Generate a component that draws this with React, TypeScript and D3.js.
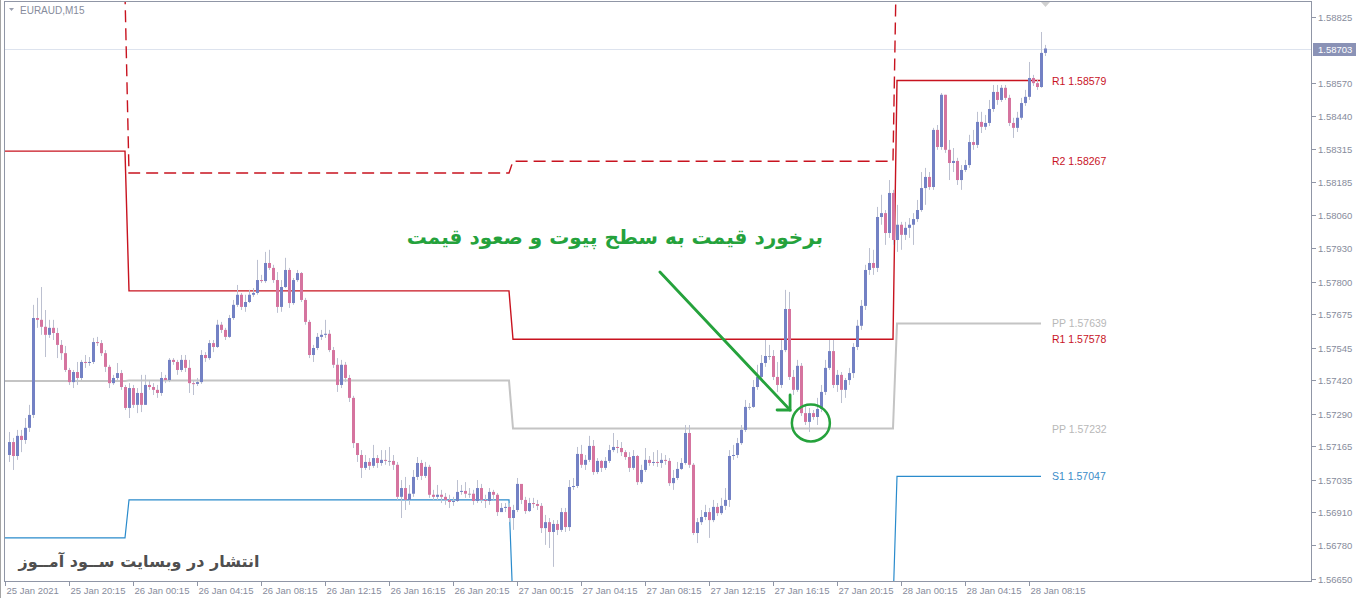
import * as d3 from "d3";

// EURAUD M15, 25 Jan 16:30 .. 28 Jan 09:15 (UTC), one bar every 15 minutes
const firstBar = Date.UTC(2021, 0, 25, 16, 30);
const axisStart = Date.UTC(2021, 0, 25, 16, 15);
const axisEnd = Date.UTC(2021, 0, 28, 9, 15);
const M15 = 15 * 60 * 1000;

const firstOpen = 1.5713;

const closes = [
  1.57180, 1.57126, 1.57204, 1.57188, 1.57235, 1.57285, 1.57660, 1.57653, 1.57626, 1.57595,
  1.57622, 1.57602, 1.57556, 1.57524, 1.57459, 1.57412, 1.57451, 1.57428, 1.57490, 1.57486,
  1.57490, 1.57567, 1.57563, 1.57524, 1.57471, 1.57408, 1.57428, 1.57447, 1.57393, 1.57312,
  1.57389, 1.57324, 1.57370, 1.57324, 1.57401, 1.57393, 1.57382, 1.57370, 1.57428, 1.57420,
  1.57498, 1.57490, 1.57459, 1.57498, 1.57467, 1.57408, 1.57405, 1.57412, 1.57517, 1.57505,
  1.57563, 1.57548, 1.57634, 1.57614, 1.57587, 1.57660, 1.57711, 1.57750, 1.57703, 1.57722,
  1.57750, 1.57757, 1.57807, 1.57803, 1.57873, 1.57854, 1.57807, 1.57703, 1.57780, 1.57846,
  1.57718, 1.57807, 1.57834, 1.57730, 1.57645, 1.57517, 1.57544, 1.57587, 1.57595, 1.57599,
  1.57536, 1.57479, 1.57401, 1.57479, 1.57428, 1.57351, 1.57176, 1.57130, 1.57080, 1.57103,
  1.57088, 1.57118, 1.57099, 1.57111, 1.57107, 1.57107, 1.57092, 1.56968, 1.57002, 1.56956,
  1.56980, 1.57045, 1.57099, 1.57049, 1.57084, 1.56976, 1.56968, 1.56976, 1.56968, 1.56956,
  1.56948, 1.56952, 1.56987, 1.56991, 1.56980, 1.56980, 1.56952, 1.57002, 1.56956, 1.56952,
  1.56987, 1.56976, 1.56909, 1.56925, 1.56929, 1.56886, 1.56917, 1.57018, 1.56956, 1.56913,
  1.56944, 1.56940, 1.56933, 1.56847, 1.56870, 1.56832, 1.56863, 1.56840, 1.56909, 1.56851,
  1.57006, 1.57010, 1.57134, 1.57092, 1.57111, 1.57165, 1.57064, 1.57107, 1.57080, 1.57107,
  1.57149, 1.57161, 1.57157, 1.57141, 1.57122, 1.57080, 1.57126, 1.57025, 1.57072, 1.57111,
  1.57099, 1.57103, 1.57099, 1.57111, 1.57107, 1.57021, 1.57041, 1.57076, 1.57099, 1.57215,
  1.57092, 1.56828, 1.56870, 1.56890, 1.56909, 1.56878, 1.56929, 1.56905, 1.56933, 1.56956,
  1.57126, 1.57130, 1.57176, 1.57227, 1.57316, 1.57316, 1.57393, 1.57432, 1.57486, 1.57513,
  1.57513, 1.57432, 1.57401, 1.57536, 1.57695, 1.57432, 1.57382, 1.57475, 1.57292, 1.57258,
  1.57292, 1.57277, 1.57308, 1.57374, 1.57467, 1.57532, 1.57401, 1.57440, 1.57382, 1.57420,
  1.57447, 1.57548, 1.57630, 1.57707, 1.57846, 1.57873, 1.57854, 1.58051, 1.58066, 1.57989,
  1.58144, 1.57962, 1.58021, 1.57982, 1.58009, 1.58021, 1.58043, 1.58078, 1.58163, 1.58206,
  1.58167, 1.58388, 1.58322, 1.58524, 1.58311, 1.58260, 1.58268, 1.58194, 1.58233, 1.58252,
  1.58341, 1.58330, 1.58419, 1.58400, 1.58415, 1.58469, 1.58535, 1.58504, 1.58551, 1.58512,
  1.58415, 1.58396, 1.58435, 1.58492, 1.58516, 1.58589, 1.58569, 1.58554, 1.58686, 1.58703,
];

const highs = [
  1.57219, 1.57196, 1.57227, 1.57227, 1.57273, 1.57324, 1.57711, 1.57738, 1.57780, 1.57691,
  1.57653, 1.57653, 1.57622, 1.57575, 1.57552, 1.57467, 1.57459, 1.57490, 1.57498, 1.57517,
  1.57509, 1.57583, 1.57587, 1.57575, 1.57536, 1.57479, 1.57440, 1.57486, 1.57459, 1.57401,
  1.57408, 1.57401, 1.57389, 1.57440, 1.57440, 1.57420, 1.57408, 1.57401, 1.57451, 1.57440,
  1.57505, 1.57505, 1.57498, 1.57517, 1.57517, 1.57498, 1.57420, 1.57428, 1.57536, 1.57528,
  1.57575, 1.57575, 1.57653, 1.57645, 1.57622, 1.57672, 1.57730, 1.57788, 1.57757, 1.57750,
  1.57769, 1.57776, 1.57885, 1.57827, 1.57916, 1.57924, 1.57866, 1.57838, 1.57807, 1.57893,
  1.57854, 1.57815, 1.57846, 1.57838, 1.57738, 1.57653, 1.57556, 1.57602, 1.57614, 1.57653,
  1.57614, 1.57548, 1.57505, 1.57498, 1.57490, 1.57440, 1.57359, 1.57176, 1.57149, 1.57130,
  1.57118, 1.57169, 1.57130, 1.57149, 1.57149, 1.57161, 1.57130, 1.57103, 1.57033, 1.57045,
  1.57014, 1.57072, 1.57122, 1.57111, 1.57103, 1.57092, 1.56995, 1.57014, 1.56995, 1.56983,
  1.56976, 1.56968, 1.57033, 1.57014, 1.57025, 1.57002, 1.56995, 1.57033, 1.57018, 1.56976,
  1.57002, 1.56995, 1.56983, 1.56944, 1.56944, 1.56944, 1.56937, 1.57041, 1.57014, 1.56968,
  1.56964, 1.56964, 1.56956, 1.56944, 1.56898, 1.56886, 1.56878, 1.56878, 1.56925, 1.56925,
  1.57033, 1.57041, 1.57161, 1.57169, 1.57130, 1.57204, 1.57188, 1.57118, 1.57111, 1.57122,
  1.57169, 1.57215, 1.57188, 1.57180, 1.57149, 1.57141, 1.57149, 1.57130, 1.57092, 1.57157,
  1.57126, 1.57141, 1.57149, 1.57137, 1.57130, 1.57118, 1.57072, 1.57103, 1.57118, 1.57246,
  1.57246, 1.57099, 1.56886, 1.56917, 1.56937, 1.56925, 1.56956, 1.56944, 1.56964, 1.57002,
  1.57149, 1.57169, 1.57196, 1.57246, 1.57343, 1.57331, 1.57420, 1.57479, 1.57517, 1.57575,
  1.57556, 1.57536, 1.57490, 1.57575, 1.57769, 1.57761, 1.57459, 1.57498, 1.57486, 1.57324,
  1.57312, 1.57304, 1.57351, 1.57401, 1.57498, 1.57575, 1.57575, 1.57459, 1.57451, 1.57428,
  1.57467, 1.57563, 1.57653, 1.57730, 1.57866, 1.57931, 1.57924, 1.58090, 1.58137, 1.58078,
  1.58194, 1.58156, 1.58098, 1.58032, 1.58032, 1.58047, 1.58066, 1.58117, 1.58225, 1.58241,
  1.58225, 1.58396, 1.58407, 1.58531, 1.58524, 1.58349, 1.58318, 1.58280, 1.58252, 1.58272,
  1.58369, 1.58388, 1.58458, 1.58458, 1.58446, 1.58504, 1.58562, 1.58562, 1.58562, 1.58562,
  1.58524, 1.58435, 1.58458, 1.58512, 1.58543, 1.58651, 1.58601, 1.58581, 1.58767, 1.58717,
];

const lows = [
  1.57103, 1.57072, 1.57111, 1.57141, 1.57173, 1.57219, 1.57273, 1.57622, 1.57595, 1.57509,
  1.57583, 1.57575, 1.57505, 1.57498, 1.57451, 1.57401, 1.57389, 1.57401, 1.57420, 1.57467,
  1.57475, 1.57482, 1.57552, 1.57513, 1.57451, 1.57389, 1.57401, 1.57420, 1.57382, 1.57304,
  1.57273, 1.57312, 1.57292, 1.57296, 1.57324, 1.57382, 1.57362, 1.57351, 1.57359, 1.57408,
  1.57412, 1.57479, 1.57440, 1.57451, 1.57451, 1.57370, 1.57362, 1.57397, 1.57405, 1.57490,
  1.57498, 1.57528, 1.57544, 1.57602, 1.57575, 1.57583, 1.57653, 1.57703, 1.57691, 1.57684,
  1.57718, 1.57742, 1.57750, 1.57796, 1.57796, 1.57846, 1.57796, 1.57680, 1.57684, 1.57776,
  1.57699, 1.57711, 1.57800, 1.57722, 1.57634, 1.57505, 1.57490, 1.57536, 1.57575, 1.57583,
  1.57528, 1.57467, 1.57374, 1.57389, 1.57412, 1.57335, 1.57157, 1.57103, 1.57041, 1.57072,
  1.57072, 1.57080, 1.57080, 1.57088, 1.57092, 1.57088, 1.57072, 1.56956, 1.56886, 1.56917,
  1.56937, 1.56968, 1.57033, 1.57033, 1.57041, 1.56964, 1.56956, 1.56956, 1.56944, 1.56937,
  1.56925, 1.56933, 1.56948, 1.56976, 1.56964, 1.56964, 1.56937, 1.56944, 1.56944, 1.56925,
  1.56937, 1.56956, 1.56894, 1.56909, 1.56909, 1.56870, 1.56840, 1.56909, 1.56940, 1.56902,
  1.56909, 1.56925, 1.56917, 1.56828, 1.56782, 1.56770, 1.56697, 1.56820, 1.56832, 1.56832,
  1.56836, 1.56995, 1.57002, 1.57080, 1.57072, 1.57103, 1.57053, 1.57056, 1.57064, 1.57072,
  1.57099, 1.57141, 1.57137, 1.57126, 1.57111, 1.57064, 1.57072, 1.57014, 1.57018, 1.57064,
  1.57088, 1.57088, 1.57084, 1.57080, 1.57092, 1.57010, 1.56995, 1.57033, 1.57072, 1.57092,
  1.57080, 1.56820, 1.56789, 1.56859, 1.56878, 1.56809, 1.56870, 1.56894, 1.56898, 1.56917,
  1.56929, 1.57111, 1.57118, 1.57169, 1.57219, 1.57304, 1.57312, 1.57382, 1.57420, 1.57471,
  1.57498, 1.57420, 1.57374, 1.57389, 1.57528, 1.57420, 1.57362, 1.57374, 1.57281, 1.57246,
  1.57219, 1.57266, 1.57246, 1.57296, 1.57362, 1.57459, 1.57389, 1.57374, 1.57331, 1.57351,
  1.57401, 1.57428, 1.57536, 1.57614, 1.57691, 1.57827, 1.57827, 1.57838, 1.58021, 1.57943,
  1.57970, 1.57943, 1.57916, 1.57924, 1.57962, 1.57970, 1.57943, 1.58032, 1.58071, 1.58098,
  1.58156, 1.58156, 1.58311, 1.58311, 1.58299, 1.58194, 1.58225, 1.58175, 1.58156, 1.58225,
  1.58241, 1.58311, 1.58318, 1.58376, 1.58388, 1.58403, 1.58458, 1.58485, 1.58496, 1.58504,
  1.58403, 1.58357, 1.58380, 1.58427, 1.58481, 1.58504, 1.58558, 1.58543, 1.58551, 1.58674,
];

const priceTicks = [
  1.58825, 1.5857, 1.5844, 1.58315, 1.58185, 1.5806, 1.5793, 1.578, 1.57675,
  1.57545, 1.5742, 1.5729, 1.57165, 1.57035, 1.5691, 1.5678, 1.5665,
];
const currentPrice = 1.58703;

const timeTickValues = [
  "2021-01-25T16:15Z", "2021-01-25T20:15Z", "2021-01-26T00:15Z", "2021-01-26T04:15Z",
  "2021-01-26T08:15Z", "2021-01-26T12:15Z", "2021-01-26T16:15Z", "2021-01-26T20:15Z",
  "2021-01-27T00:15Z", "2021-01-27T04:15Z", "2021-01-27T08:15Z", "2021-01-27T12:15Z",
  "2021-01-27T16:15Z", "2021-01-27T20:15Z", "2021-01-28T00:15Z", "2021-01-28T04:15Z",
  "2021-01-28T08:15Z",
];
const timeTickLabels = [
  "25 Jan 2021", "25 Jan 20:15", "26 Jan 00:15", "26 Jan 04:15", "26 Jan 08:15",
  "26 Jan 12:15", "26 Jan 16:15", "26 Jan 20:15", "27 Jan 00:15", "27 Jan 04:15",
  "27 Jan 08:15", "27 Jan 12:15", "27 Jan 16:15", "27 Jan 20:15", "28 Jan 00:15",
  "28 Jan 04:15", "28 Jan 08:15",
];

// daily pivot levels
const pivotDays = ["2021-01-25", "2021-01-26", "2021-01-27", "2021-01-28"];
const ppLevels = [1.57416, 1.57418, 1.57232, 1.57639];
const r1Levels = [1.58306, 1.57765, 1.57578, 1.58579];
const r2Levels = [1.58913, 1.58221, 1.58267, 1.59171];
const s1Levels = [1.56809, 1.56956, 1.56543, 1.57047];

const levelNames = ["R1", "R2", "PP", "R1", "PP", "S1"];
const levelValues = [1.58579, 1.58267, 1.57639, 1.57578, 1.57232, 1.57047];

const RED = "#c8131f";
const GRAY = "#c4c4c4";
const BLUE = "#2a8bcc";
const BULL = "#7381c4";
const BEAR = "#d5749f";
const WICK = "#bcc0d0";
const AXIS_TEXT = "#878c9c";
const GREEN = "#25a23c";

const levelColors: Record<string, string> = { R1: RED, R2: RED, PP: "#b8b8b8", S1: "#3a8cc8" };

export default function App() {
  const width = 1360;
  const height = 598;
  const plot = { left: 4, right: 1312, top: 2, bottom: 582 };

  const x = d3.scaleUtc().domain([new Date(axisStart), new Date(axisEnd)]).range([5, 1045]);
  const y = d3.scaleLinear().domain([1.5665, 1.58825]).range([579, 17]);

  const bars = closes.map((c, i) => {
    const o = i === 0 ? firstOpen : closes[i - 1];
    return { t: new Date(firstBar + i * M15), o, h: highs[i], l: lows[i], c };
  });

  // pivot polylines: each day is a flat segment from its first to its last bar
  const lastBar = firstBar + (closes.length - 1) * M15;
  const daySpans = pivotDays.map((d, i) => {
    const start = Date.parse(d + "T00:00Z");
    const end = i < pivotDays.length - 1 ? Date.parse(pivotDays[i + 1] + "T00:00Z") - M15 : lastBar - M15;
    return [start, end];
  });
  const levelPath = (levels: number[]) => {
    const pts: [number, number][] = [];
    levels.forEach((v, i) => {
      pts.push([daySpans[i][0], v], [daySpans[i][1], v]);
    });
    return d3.line<[number, number]>().x((p) => x(new Date(p[0]))).y((p) => y(p[1]))(pts) ?? "";
  };

  // annotation anchored in data space
  const arrowFrom = { t: Date.parse("2021-01-27T09:11Z"), p: 1.57838 };
  const arrowTo = { t: Date.parse("2021-01-27T17:19Z"), p: 1.57304 };
  const ring = { t: Date.parse("2021-01-27T18:37Z"), p: 1.57254 };
  const noteAt = { t: Date.parse("2021-01-27T06:22Z"), p: 1.57947 };

  const ax = x(new Date(arrowFrom.t));
  const ay = y(arrowFrom.p);
  const bx = x(new Date(arrowTo.t));
  const by = y(arrowTo.p);

  const font = "'Liberation Sans', Arial, sans-serif";

  return (
    <svg
      width={width}
      height={height}
      style={{ position: "absolute", left: 0, top: 0, background: "#fff" }}
      fontFamily={font}
    >
      <defs>
        <clipPath id="plotClip">
          <rect x={plot.left} y={plot.top} width={plot.right - plot.left} height={plot.bottom - plot.top} />
        </clipPath>
      </defs>
      <rect width={width} height={height} fill="#fff" />

      {/* current price line */}
      <line x1={plot.left} x2={plot.right} y1={Math.round(y(currentPrice)) + 0.5} y2={Math.round(y(currentPrice)) + 0.5} stroke="#dde3ee" />

      <g clipPath="url(#plotClip)" fill="none">
        <path d={levelPath(ppLevels)} stroke={GRAY} strokeWidth={2} />
        <path d={levelPath(s1Levels)} stroke={BLUE} strokeWidth={1.2} />
        <path d={levelPath(r1Levels)} stroke={RED} strokeWidth={1.4} />
        <path d={levelPath(r2Levels)} stroke={RED} strokeWidth={1.4} strokeDasharray="12 6" />
      </g>

      {/* candles */}
      <g clipPath="url(#plotClip)">
        {bars.map((b, i) => {
          const cx = Math.round(x(b.t));
          const top = y(Math.max(b.o, b.c));
          const bot = y(Math.min(b.o, b.c));
          const up = b.c > b.o;
          return (
            <g key={i}>
              <line x1={cx + 0.5} x2={cx + 0.5} y1={y(b.h)} y2={y(b.l)} stroke={WICK} strokeWidth={1} />
              <rect x={cx - 1} y={top} width={3} height={Math.max(1, bot - top)} fill={up ? BULL : b.c < b.o ? BEAR : "#9aa0b8"} />
            </g>
          );
        })}
      </g>

      {/* level labels */}
      {levelNames.map((n, i) => (
        <text key={i} x={1052} y={y(levelValues[i]) + 4} fontSize={10.5} fill={levelColors[n]}>
          {`${n} ${levelValues[i].toFixed(5)}`}
        </text>
      ))}

      {/* frame */}
      <line x1={0.5} x2={0.5} y1={0} y2={height} stroke="#a4a4a4" />
      <rect x={plot.left + 0.5} y={plot.top - 0.5} width={plot.right - plot.left - 1} height={plot.bottom - plot.top} fill="none" stroke="#9096a6" />

      {/* price axis */}
      {priceTicks.map((v, i) => {
        const py = Math.round(y(v)) + 0.5;
        return (
          <g key={i}>
            <line x1={plot.right} x2={plot.right + 4} y1={py} y2={py} stroke="#9096a6" />
            <text x={1318} y={py + 3.5} fontSize={9.5} fill={AXIS_TEXT}>
              {v.toFixed(5)}
            </text>
          </g>
        );
      })}
      <rect x={1313} y={Math.round(y(currentPrice)) - 6} width={43} height={13} fill="#8a92b6" />
      <text x={1318} y={Math.round(y(currentPrice)) + 4} fontSize={9.5} fill="#fff">
        {currentPrice.toFixed(5)}
      </text>

      {/* time axis */}
      {timeTickValues.map((s, i) => {
        const tx = Math.round(x(new Date(s))) + 0.5;
        return (
          <g key={i}>
            <line x1={tx} x2={tx} y1={plot.bottom} y2={plot.bottom + 4} stroke="#9096a6" />
            <text x={tx + 1} y={594} fontSize={9.5} fill={AXIS_TEXT}>
              {timeTickLabels[i]}
            </text>
          </g>
        );
      })}

      {/* symbol caption */}
      <path d="M9,8 L14,8 L11.5,11 Z" fill="#9aa0b0" />
      <text x={20} y={13.5} fontSize={10} fill={AXIS_TEXT}>
        EURAUD,M15
      </text>
      <path d="M1041,2 L1050,2 L1045.5,7 Z" fill="#d0d0d0" />

      {/* annotation */}
      <text
        x={x(new Date(noteAt.t))}
        y={y(noteAt.p)}
        textAnchor="middle"
        fontFamily="'DejaVu Sans', sans-serif"
        fontWeight="bold"
        fontSize={20}
        fill={GREEN}
      >
        برخورد قیمت به سطح پیوت و صعود قیمت
      </text>
      <g stroke={GREEN} strokeWidth={2.8} fill="none" strokeLinecap="round">
        <line x1={ax} y1={ay} x2={bx} y2={by} />
        <path d={`M${bx},${by - 15} L${bx},${by} L${bx - 13},${by}`} />
      </g>
      <ellipse cx={x(new Date(ring.t))} cy={y(ring.p)} rx={19} ry={18.5} fill="none" stroke={GREEN} strokeWidth={2.5} />

      {/* watermark */}
      <text
        x={139}
        y={567}
        textAnchor="middle"
        fontFamily="'DejaVu Sans', sans-serif"
        fontWeight="bold"
        fontSize={16}
        fill="#4f4f4f"
      >
        انتشار در وبسایت ســود آمــوز
      </text>
    </svg>
  );
}
